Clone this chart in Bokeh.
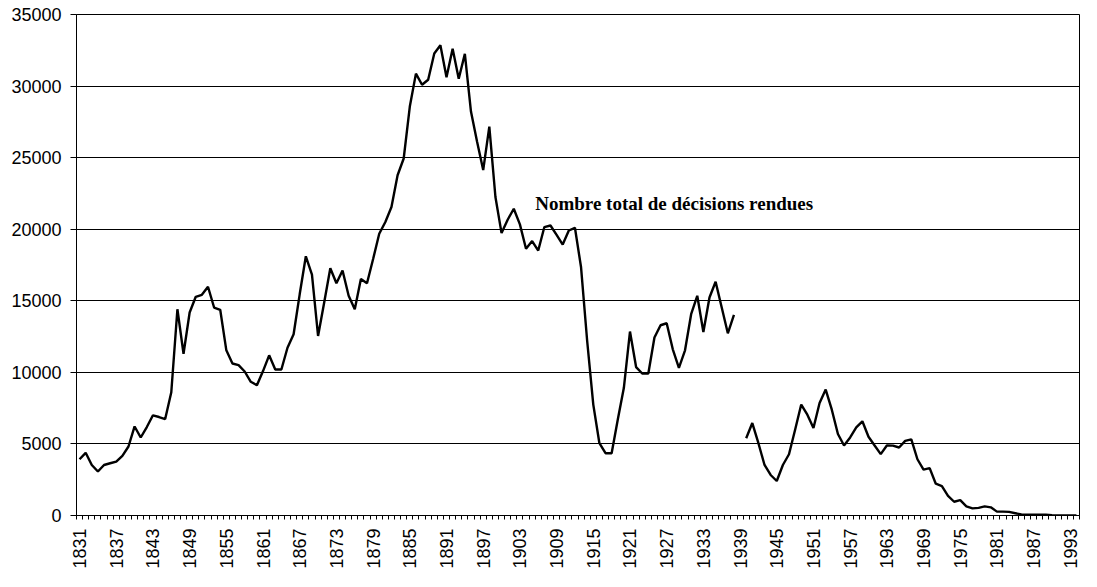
import math
from bokeh.plotting import figure
from bokeh.models import FixedTicker, Label, Range1d, ColumnDataSource
from bokeh.embed import file_html
from bokeh.resources import INLINE

# ---- data ----
years = list(range(1831, 1995))
decisions = [
    3930, 4380, 3530, 3070, 3530, 3650, 3770, 4170, 4820, 6220,   # 1831-1840
    5450, 6180, 7000, 6880, 6740, 8610, 14410, 11300, 14180, 15280,  # 1841-1850
    15420, 15980, 14530, 14370, 11540, 10620, 10510, 10060, 9340, 9100,  # 1851-1860
    10090, 11190, 10200, 10200, 11720, 12660, 15470, 18110, 16830, 12540,  # 1861-1870
    14880, 17270, 16220, 17110, 15350, 14410, 16520, 16220, 17920, 19680,  # 1871-1880
    20500, 21550, 23770, 24940, 28570, 30870, 30090, 30440, 32270, 32850,  # 1881-1890
    30610, 32600, 30510, 32250, 28220, 26110, 24130, 27170, 22250, 19730,  # 1891-1900
    20660, 21430, 20340, 18630, 19170, 18510, 20150, 20260, 19610, 18930,  # 1901-1910
    19910, 20100, 17340, 12190, 7750, 5050, 4350, 4350, 6690, 8920,  # 1911-1920
    12850, 10370, 9920, 9920, 12430, 13290, 13430, 11610, 10320, 11540,  # 1921-1930
    14060, 15350, 12820, 15230, 16330, 14530, 12730, 14020, float("nan"), 5400,  # 1931-1940
    6460, 5050, 3530, 2830, 2410, 3530, 4280, 5990, 7750, 7040,  # 1941-1950
    6110, 7860, 8800, 7390, 5690, 4890, 5450, 6150, 6580, 5500,  # 1951-1960
    4890, 4290, 4890, 4880, 4750, 5210, 5320, 3930, 3200, 3310,  # 1961-1970
    2220, 2060, 1370, 960, 1070, 640, 500, 530, 640, 570,  # 1971-1980
    270, 270, 250, 160, 70, 50, 50, 50, 50, 20,  # 1981-1990
    10, 5, 2, 0,  # 1991-1994
]
x_tick_years = list(range(1831, 1994, 6))
x_tick_labels = [str(y) for y in x_tick_years]
y_ticks = [0, 5000, 10000, 15000, 20000, 25000, 30000, 35000]
series_label = "Nombre total de décisions rendues"

# ---- figure ----
p = figure(width=1081, height=571, output_backend="svg", toolbar_location=None,
           x_range=Range1d(years[0] - 0.5, years[-1] + 0.5),
           y_range=Range1d(0, 35000))
p.min_border_left = 76
p.min_border_right = 2
p.min_border_top = 14
p.min_border_bottom = 55
p.background_fill_color = "white"
p.border_fill_color = "white"
p.outline_line_color = "black"
p.outline_line_width = 1

src = ColumnDataSource(dict(x=years, y=decisions))
p.line("x", "y", source=src, line_color="black", line_width=2.4)

p.add_layout(Label(x=1905.5, y=21800, text=series_label,
                   text_font="Liberation Serif", text_font_style="bold",
                   text_font_size="19px", text_color="black",
                   text_baseline="alphabetic"))

# x axis
p.xaxis.ticker = FixedTicker(ticks=x_tick_years,
                             minor_ticks=[y - 0.5 for y in years] + [years[-1] + 0.5])
p.xaxis.major_label_overrides = {t: l for t, l in zip(x_tick_years, x_tick_labels)}
p.xaxis.major_label_orientation = math.pi / 2
p.xaxis.major_tick_out = 0
p.xaxis.major_tick_in = 0
p.xaxis.minor_tick_out = 4
p.xaxis.minor_tick_in = 0
p.xaxis.minor_tick_line_color = "black"
p.xaxis.axis_line_color = "black"
p.xaxis.major_label_standoff = 9
p.xaxis.major_label_text_font = "Liberation Sans"
p.xaxis.major_label_text_font_size = "18px"
p.xaxis.major_label_text_color = "black"

# y axis
p.yaxis.ticker = FixedTicker(ticks=y_ticks)
p.yaxis.major_label_overrides = {t: str(t) for t in y_ticks}
p.yaxis.major_tick_out = 6
p.yaxis.major_tick_in = 0
p.yaxis.minor_tick_out = 0
p.yaxis.minor_tick_in = 0
p.yaxis.major_tick_line_color = "black"
p.yaxis.axis_line_color = "black"
p.yaxis.major_label_standoff = 9
p.yaxis.major_label_text_font = "Liberation Sans"
p.yaxis.major_label_text_font_size = "18px"
p.yaxis.major_label_text_color = "black"

p.xgrid.grid_line_color = None
p.ygrid.grid_line_color = "black"
p.ygrid.grid_line_width = 1

open("out.html", "w").write(file_html(p, INLINE))
